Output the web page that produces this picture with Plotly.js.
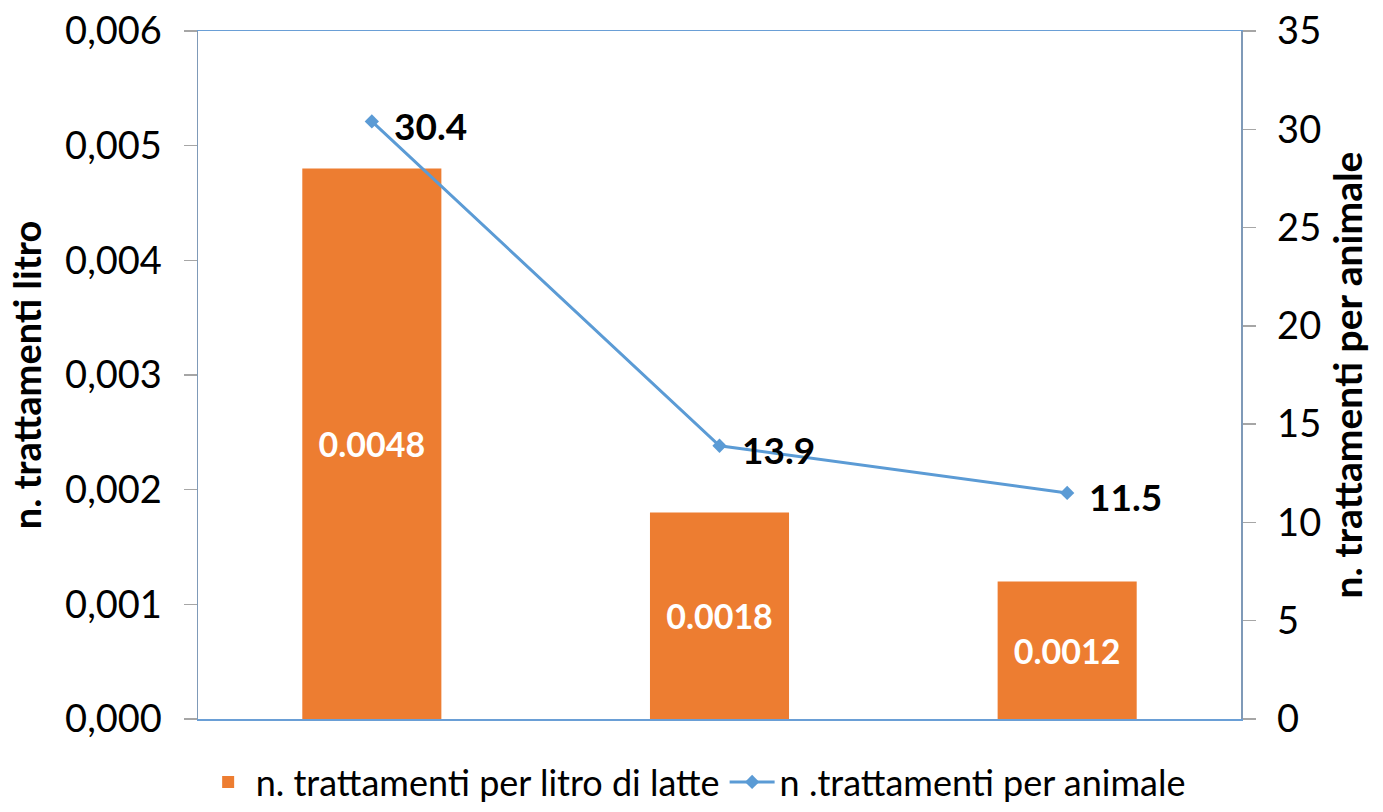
<!DOCTYPE html>
<html>
<head>
<meta charset="utf-8">
<script src="https://cdn.plot.ly/plotly-3.0.1.min.js"></script>
<style>html,body{margin:0;padding:0;background:#fff}#chart{width:1383px;height:812px}</style>
</head>
<body>
<div id="chart"></div>
<script>
const categories = ["A", "B", "C"];
const perLitro = [0.0048, 0.0018, 0.0012];
const perLitroLabels = ["0.0048", "0.0018", "0.0012"];
const perAnimale = [30.4, 13.9, 11.5];
const perAnimaleLabels = ["30.4", "13.9", "11.5"];
const leftTicks = [0, 0.001, 0.002, 0.003, 0.004, 0.005, 0.006];
const rightTicks = [0, 5, 10, 15, 20, 25, 30, 35];

const FONT = "Lato, 'Open Sans', sans-serif";

const traces = [
  {
    type: "bar",
    name: "n. trattamenti per litro di latte",
    x: categories,
    y: perLitro,
    marker: {color: "#ed7d31"},
    text: perLitroLabels,
    textposition: "inside",
    insidetextanchor: "middle",
    textfont: {family: FONT, size: 34, color: "#ffffff", weight: "bold"},
    textangle: 0,
    hoverinfo: "none"
  },
  {
    type: "scatter",
    mode: "lines+markers",
    name: "n .trattamenti per animale",
    x: categories,
    y: perAnimale,
    yaxis: "y2",
    line: {color: "#5b9bd5", width: 3},
    marker: {symbol: "diamond", size: 11, color: "#5b9bd5"},
    cliponaxis: false,
    hoverinfo: "none"
  }
];

const annotations = categories.map((c, i) => ({
  x: c, y: perAnimale[i], xref: "x", yref: "y2",
  text: perAnimaleLabels[i],
  showarrow: false,
  xanchor: "left", yanchor: "middle",
  xshift: 20, yshift: -4,
  font: {family: FONT, size: 37, color: "#000000", weight: "bold"}
}));

const layout = {
  width: 1383,
  height: 812,
  margin: {l: 198, r: 142, t: 31, b: 93, autoexpand: false},
  paper_bgcolor: "#ffffff",
  plot_bgcolor: "#ffffff",
  font: {family: FONT, color: "#000000"},
  bargap: 0.6,
  showlegend: true,
  legend: {
    orientation: "h",
    x: 0.503, xanchor: "center", xref: "container",
    y: 0.0, yanchor: "bottom", yref: "container",
    font: {family: FONT, size: 36, color: "#000000"},
    traceorder: "normal",
    itemwidth: 45
  },
  annotations: annotations,
  xaxis: {
    type: "category",
    showticklabels: false,
    ticks: "",
    showgrid: false,
    zeroline: false,
    showline: true,
    linecolor: "#6a9fd6",
    linewidth: 1.5,
    mirror: true,
    fixedrange: true
  },
  yaxis: {
    range: [0, 0.006],
    tickvals: leftTicks,
    tickformat: ".3f",
    ticks: "outside",
    ticklen: 13,
    tickcolor: "#a6a6a6",
    tickwidth: 1.5,
    ticklabelstandoff: 14,
    showgrid: false,
    zeroline: false,
    showline: true,
    linecolor: "#7f9ab8",
    linewidth: 1.5,
    tickfont: {family: FONT, size: 38, color: "#000000"},
    title: {text: "n. trattamenti litro", font: {family: FONT, size: 38, color: "#000000", weight: "bold"}, standoff: 12},
    fixedrange: true
  },
  yaxis2: {
    overlaying: "y",
    side: "right",
    range: [0, 35],
    tickvals: rightTicks,
    ticks: "outside",
    ticklen: 13,
    tickcolor: "#a6a6a6",
    tickwidth: 1.5,
    ticklabelstandoff: 14,
    showgrid: false,
    zeroline: false,
    showline: true,
    linecolor: "#7f9ab8",
    linewidth: 1.5,
    tickfont: {family: FONT, size: 38, color: "#000000"},
    title: {text: "n. trattamenti per animale", font: {family: FONT, size: 39, color: "#000000", weight: "bold"}, standoff: 14},
    fixedrange: true
  },
  separators: ",."
};

Plotly.newPlot("chart", traces, layout, {displayModeBar: false, staticPlot: true});
</script>
</body>
</html>
